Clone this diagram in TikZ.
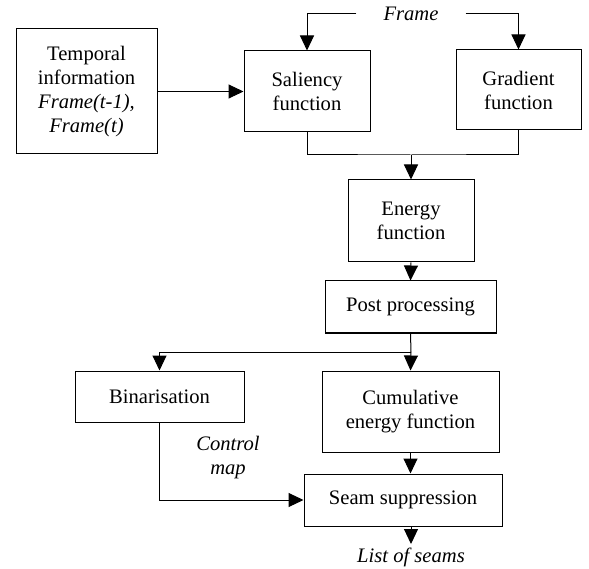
\documentclass[tikz,border=0pt]{standalone}
\usepackage{fontspec}
\newfontfamily\timesfont{Liberation Serif}
\usetikzlibrary{arrows.meta,positioning}
\tikzset{
	box/.style={draw,line width=1pt,align=center,inner sep=0pt},
	flow/.style={line width=1pt,-{Triangle[length=15pt,width=14pt]}},
	wire/.style={line width=1pt}
}

\begin{document}
\begin{tikzpicture}[x=1pt,y=-1pt,font=\timesfont\fontsize{20.6}{24}\selectfont]
	\useasboundingbox (0,0) rectangle (589,569);
	\node[box,minimum width=141,minimum height=125] (temporal) at (86.5,91.5) {Temporal\\information\\\textit{Frame(t-1),}\\\textit{Frame(t)}};
	\node[box,minimum width=126,minimum height=81] (saliency) at (307,91.5) {Saliency\\function};
	\node[box,minimum width=125,minimum height=80] (gradient) at (518.5,90) {Gradient\\function};
	\node[inner xsep=27,inner ysep=0] (frame) at (411,14) {\textit{Frame}};
	\node[box,minimum width=126,minimum height=82] (energy) at (411,221) {Energy\\function};
	\node[box,minimum width=171,minimum height=52] (post) at (410.5,307) {Post processing};
	\node[box,minimum width=169,minimum height=51] (binar) at (159.5,396.5) {Binarisation};
	\node[box,minimum width=177,minimum height=81] (cumul) at (410.5,411.5) {Cumulative\\energy function};
	\node[box,minimum width=198,minimum height=52] (seam) at (403,500) {Seam suppression};
	\node[align=center] (control) at (228,458) {\textit{Control}\\\textit{map}};
	\node (seams) at (411,557) {\textit{List of seams}};
	\coordinate (merge) at (411,155);
	\coordinate (split) at (411,352);

	\draw[flow] (temporal.east) -- (saliency.west);
	\draw[flow] (frame.west) -| (saliency.north);
	\draw[flow] (frame.east) -| (gradient.north);
	\draw[wire] (saliency.south) |- (merge) -| (gradient.south);
	\draw[flow] (merge) -- (energy.north);
	\draw[flow] (energy.south) -- (post.north);
	\draw[wire] (post.south) -- (split);
	\draw[flow] (split) -| (binar.north);
	\draw[flow] (split) -- (cumul.north);
	\draw[flow] (cumul.south) -- (cumul.south |- seam.north);
	\draw[flow] (binar.south) |- (seam.west);
	\draw[flow] (seams.north |- seam.south) -- (seams.north);
\end{tikzpicture}
\end{document}
